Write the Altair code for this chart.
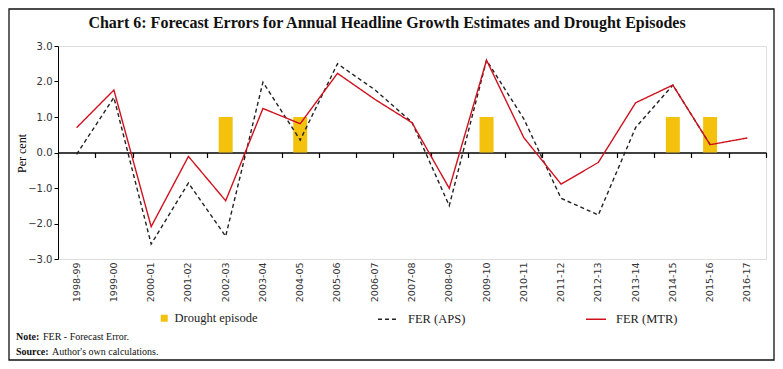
import altair as alt
import pandas as pd

years = ['1998-99', '1999-00', '2000-01', '2001-02', '2002-03', '2003-04', '2004-05',
         '2005-06', '2006-07', '2007-08', '2008-09', '2009-10', '2010-11', '2011-12',
         '2012-13', '2013-14', '2014-15', '2015-16', '2016-17']
fer_aps = [-0.05, 1.55, -2.58, -0.86, -2.36, 1.98, 0.35, 2.50, 1.77, 0.85,
           -1.50, 2.60, 0.95, -1.29, -1.76, 0.70, 1.90, 0.22, None]
fer_mtr = [0.70, 1.76, -2.09, -0.11, -1.36, 1.24, 0.81, 2.23, 1.50, 0.84,
           -1.01, 2.60, 0.42, -0.89, -0.28, 1.40, 1.90, 0.22, 0.41]
drought_years = ['2002-03', '2004-05', '2009-10', '2014-15', '2015-16']
drought_vals = [1.0, 1.0, 1.0, 1.0, 1.0]

series_names = ['FER (APS)', 'FER (MTR)']
title_text = 'Chart 6: Forecast Errors for Annual Headline Growth Estimates and Drought Episodes'
YEL = '#F4C20D'
RED = '#D0121F'
BLK = '#222222'

rows = []
for name, vals in zip(series_names, [fer_aps, fer_mtr]):
    for y, v in zip(years, vals):
        if v is not None:
            rows.append({'year': y, 'value': v, 'series': name})
df_lines = pd.DataFrame(rows)
df_drought = pd.DataFrame({'year': drought_years, 'value': drought_vals,
                           'label': ['Drought episode'] * len(drought_years)})

W, H = 708, 213
SERIF = 'Liberation Serif'
SANS = 'DejaVu Sans'

xscale = alt.Scale(domain=years, paddingInner=0, paddingOuter=0)
yscale = alt.Scale(domain=[-3, 3], nice=False, zero=False)

yaxis = alt.Axis(values=[-3, -2, -1, 0, 1, 2, 3], format='.1f', grid=False,
                 domainColor='#000', domainWidth=1, tickColor='#000', tickSize=4,
                 labelFont=SANS, labelFontSize=10, labelColor='#333', labelPadding=2,
                 title='Per cent', titleFont=SERIF, titleFontSize=12,
                 titleFontWeight='normal', titleColor='#000', titleX=-30, titleY=107)

label_axis = alt.Axis(orient='bottom', labelAngle=-90, domain=False, ticks=False,
                      title=None, labelFont=SANS, labelFontSize=9.5,
                      labelColor='#333', labelPadding=3)

zero_axis = alt.Axis(orient='bottom', offset=-H / 2, labels=False, title=None,
                     domainColor='#000', domainWidth=1.3, tickColor='#000',
                     tickSize=5, tickWidth=1.2, tickBand='extent', grid=False)

bars = alt.Chart(df_drought).mark_bar(size=14).encode(
    x=alt.X('year:N', scale=xscale, sort=years, axis=label_axis),
    y=alt.Y('value:Q', scale=yscale, axis=yaxis),
    fill=alt.Fill('label:N', scale=alt.Scale(domain=['Drought episode'], range=[YEL]),
                  legend=alt.Legend(title=None, orient='none', legendX=100, legendY=266,
                                    symbolType='square', symbolSize=49,
                                    symbolStrokeWidth=0, labelFont=SERIF,
                                    labelFontSize=12.5, labelColor='#222',
                                    labelOffset=4)),
)

line_legend = alt.Legend(title=None, orient='none', legendX=319, legendY=262,
                         direction='horizontal', symbolType='stroke', symbolSize=400,
                         symbolStrokeWidth=1.4, labelFont=SERIF, labelFontSize=12.5,
                         labelColor='#222', labelOffset=9, columnPadding=117)

lines = alt.Chart(df_lines).mark_line(strokeWidth=1.4).encode(
    x=alt.X('year:N', scale=xscale, sort=years, axis=zero_axis),
    y=alt.Y('value:Q', scale=yscale, axis=yaxis),
    stroke=alt.Stroke('series:N', scale=alt.Scale(domain=series_names, range=[BLK, RED]),
                      legend=line_legend),
    strokeDash=alt.StrokeDash('series:N',
                              scale=alt.Scale(domain=series_names, range=[[4, 3], [1, 0]]),
                              legend=line_legend),
)

one = pd.DataFrame({'k': [0]})
frame = alt.Chart(one).mark_rect(fill=None, stroke='#111', strokeWidth=1.3).encode(
    x=alt.value(-49), x2=alt.value(716), y=alt.value(-37), y2=alt.value(314)
)

title = alt.Chart(one).mark_text(text=title_text, font=SERIF, fontSize=16,
                                 fontWeight='bold', align='center', baseline='middle',
                                 color='#111').encode(
    x=alt.value(329), y=alt.value(-23))

NF = 10
note_b = alt.Chart(one).mark_text(text='Note:', font=SERIF, fontSize=NF,
                                  fontWeight='bold', align='left', color='#111').encode(
    x=alt.value(-42), y=alt.value(291))
note_r = alt.Chart(one).mark_text(text='FER - Forecast Error.', font=SERIF, fontSize=NF,
                                  align='left', color='#111').encode(
    x=alt.value(-15), y=alt.value(291))
src_b = alt.Chart(one).mark_text(text='Source:', font=SERIF, fontSize=NF,
                                 fontWeight='bold', align='left', color='#111').encode(
    x=alt.value(-42), y=alt.value(306))
src_r = alt.Chart(one).mark_text(text="Author's own calculations.", font=SERIF,
                                 fontSize=NF, align='left', color='#111').encode(
    x=alt.value(-6), y=alt.value(306))

chart = alt.layer(bars, lines, frame, title, note_b, note_r, src_b, src_r).resolve_axis(
    x='independent'
).properties(
    width=W, height=H,
    autosize=alt.AutoSizeParams(type='none'),
    padding={'left': 50, 'top': 38, 'right': 9, 'bottom': 102},
).configure_view(stroke=None).configure(background='white')

chart.save('out.html', embed_options={'renderer': 'svg', 'actions': False})
